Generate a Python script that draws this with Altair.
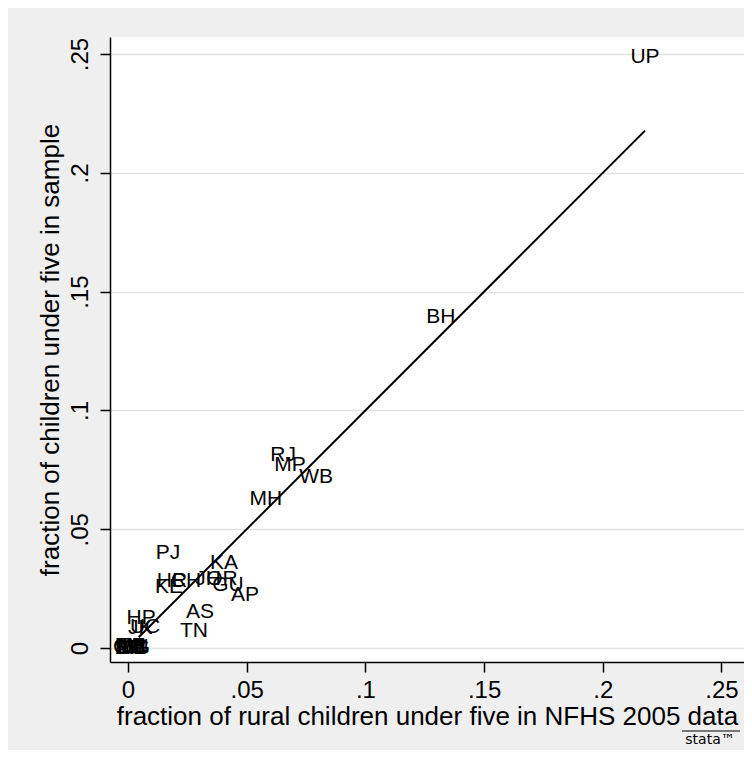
import altair as alt
import pandas as pd

# ---- data ----
states = ["UP", "BH", "RJ", "MP", "WB", "MH", "PJ", "KA", "HR", "CH", "KE",
          "JH", "OR", "GU", "AP", "AS", "TN", "HP", "UC", "JK",
          "GO", "DL", "MN", "MG", "MZ", "NA", "SK", "TR", "AR"]
frac_nfhs = [0.2178, 0.1318, 0.0653, 0.0682, 0.0792, 0.0581, 0.0168, 0.0404, 0.0185, 0.0244, 0.0173,
             0.0337, 0.0396, 0.0421, 0.0493, 0.0303, 0.0278, 0.0055, 0.0072, 0.0051,
             0.0005, 0.0012, 0.0018, 0.0022, 0.0008, 0.0015, 0.0003, 0.0020, 0.0010]
frac_sample = [0.2487, 0.1393, 0.0812, 0.0770, 0.0720, 0.0627, 0.0400, 0.0358, 0.0282, 0.0282, 0.0257,
               0.0290, 0.0290, 0.0265, 0.0223, 0.0152, 0.0072, 0.0126, 0.0088, 0.0084,
               0.0004, 0.0000, 0.0006, 0.0001, 0.0010, 0.0003, 0.0002, 0.0008, 0.0000]

# 45-degree reference line end points
line_x = [0.0045, 0.2178]
line_y = [0.0045, 0.2178]

x_ticks = [0, 0.05, 0.1, 0.15, 0.2, 0.25]
x_tick_labels = ["0", ".05", ".1", ".15", ".2", ".25"]
y_ticks = [0, 0.05, 0.1, 0.15, 0.2, 0.25]
y_tick_labels = ["0", ".05", ".1", ".15", ".2", ".25"]

x_title = "fraction of rural children under five in NFHS 2005 data"
y_title = "fraction of children under five in sample"

pts = pd.DataFrame({"state": states, "x": frac_nfhs, "y": frac_sample})
ln = pd.DataFrame({"x": line_x, "y": line_y})

FONT = "Liberation Sans"

def label_expr(vals, labs):
    return f"{labs}[indexof({vals}, datum.value)]"

xscale = alt.Scale(domain=[-0.0076, 0.2595], nice=False, zero=False)
yscale = alt.Scale(domain=[-0.0059, 0.2572], nice=False, zero=False)

xaxis = alt.Axis(title=x_title, values=x_ticks, labelExpr=label_expr(x_ticks, x_tick_labels),
                 grid=False, labelPadding=6, titlePadding=1, labelFlush=False)
yaxis = alt.Axis(title=y_title, values=y_ticks, labelExpr=label_expr(y_ticks, y_tick_labels),
                 grid=True, gridColor="#e3e3e3", gridWidth=1.5,
                 labelAngle=270, labelAlign="center", labelBaseline="bottom",
                 labelPadding=8, titlePadding=5, labelFlush=False)

line = alt.Chart(ln).mark_line(color="black", strokeWidth=2).encode(
    x=alt.X("x:Q", scale=xscale, axis=xaxis),
    y=alt.Y("y:Q", scale=yscale, axis=yaxis),
)

labels = alt.Chart(pts).mark_text(font=FONT, fontSize=21, color="black",
                                  align="center", baseline="middle").encode(
    x=alt.X("x:Q", scale=xscale),
    y=alt.Y("y:Q", scale=yscale),
    text="state:N",
)

logo_df = pd.DataFrame({"t": ["stata™"]})
logo = alt.Chart(logo_df).mark_text(font="DejaVu Sans", fontSize=14, color="black",
                                    align="center", baseline="middle").encode(
    x=alt.value(600), y=alt.value(703), text="t:N")
logo_rule = alt.Chart(logo_df).mark_rule(color="black", strokeWidth=1.2).encode(
    x=alt.value(572), x2=alt.value(630), y=alt.value(694))

chart = alt.layer(line, labels, logo, logo_rule).properties(
    width=634, height=625,
    background="#efefef",
    padding={"left": 102, "top": 29, "right": 0, "bottom": 88},
    autosize=alt.AutoSizeParams(type="none"),
).configure_view(
    fill="white", strokeWidth=0,
).configure_axis(
    domainColor="black", domainWidth=1.5,
    tickColor="black", tickWidth=1.5, tickSize=10,
    labelFont=FONT, labelFontSize=24, labelColor="black",
    titleFont=FONT, titleFontSize=26, titleFontWeight="normal", titleColor="black",
)

chart.save("out.html", embed_options={"renderer": "svg", "actions": False})
